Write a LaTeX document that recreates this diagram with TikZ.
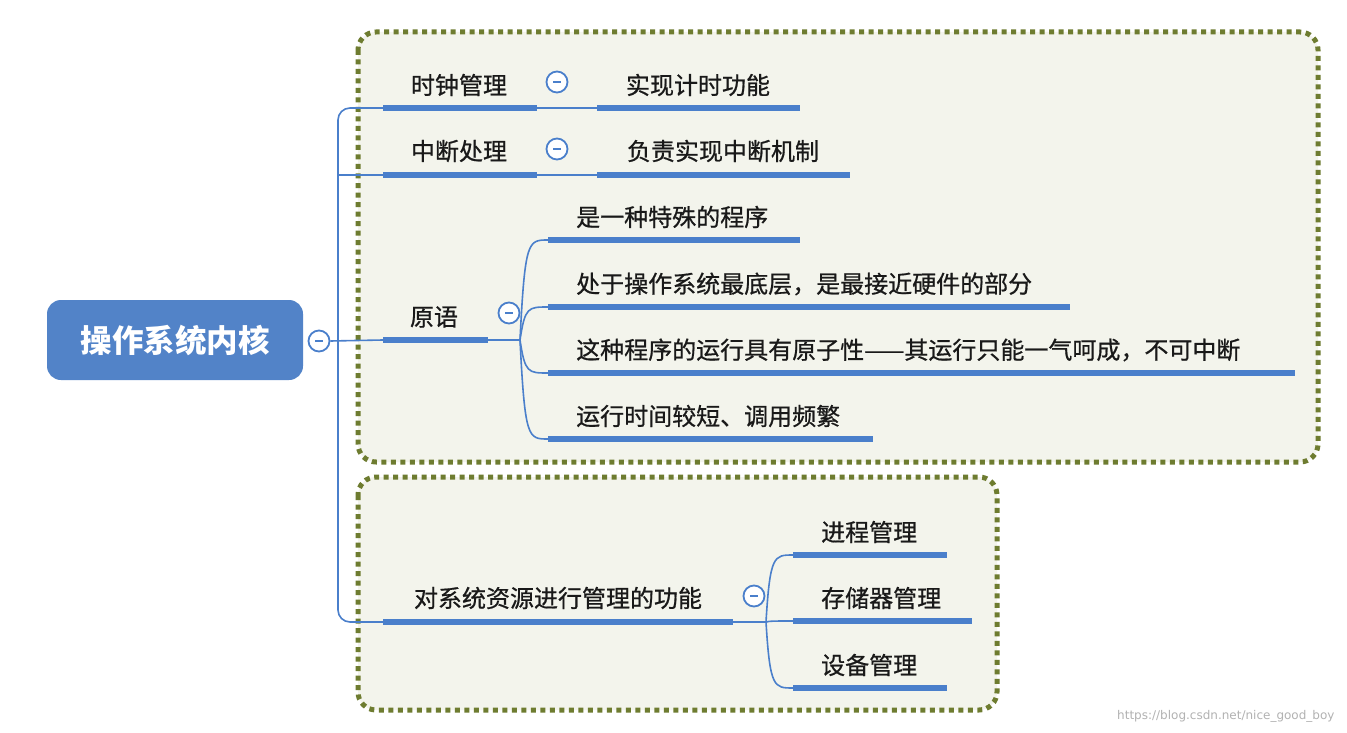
\documentclass[tikz,border=0pt]{standalone}
\usepackage{fontspec}
\newfontfamily\cjk[FakeBold=0.7]{Noto Sans CJK SC}
\newfontfamily\cjkb{Noto Sans CJK SC}
\setsansfont{DejaVu Sans}
\definecolor{rootblue}{HTML}{5283C8}
\definecolor{lineblue}{HTML}{4A7FCB}
\definecolor{olive}{HTML}{6E7C30}
\definecolor{boxfill}{HTML}{F3F4EC}
\begin{document}
\begin{tikzpicture}[x=1pt,y=-1pt,
  lbl/.style={font=\cjk\fontsize{24}{28}\selectfont, text=black!90, inner sep=0pt},
  ul/.style={draw=lineblue, line width=6pt},
  conn/.style={draw=lineblue, line width=1.6pt},
  tog/.style={circle, draw=lineblue, line width=1.8pt, fill=white, minimum size=21pt, inner sep=0pt},
  grp/.style={draw=olive, line width=5pt, dash pattern=on 5pt off 4.5pt, fill=boxfill, rounded corners=18pt}]
\useasboundingbox (0,0) rectangle (1347,733);
\fill[white] (0,0) rectangle (1347,733);
% group boxes
\path[grp] (358,32) rectangle (1318,462);
\path[grp] (358,477) rectangle (997,710);
% root
\node[fill=rootblue, rounded corners=14pt, minimum width=256pt, minimum height=80pt, text=white, font=\cjkb\bfseries\fontsize{31.5}{36}\selectfont] (root) at (175,340) {操作系统内核};
\node[tog] (t0) at (319,341) {};
\draw[lineblue, line width=2pt] ([xshift=-4pt]t0.center) -- ([xshift=4pt]t0.center);
% top-level underline coordinates
\coordinate (a1) at (383,108); \coordinate (a2) at (537,108);
\coordinate (b1) at (383,175); \coordinate (b2) at (537,175);
\coordinate (c1) at (383,340); \coordinate (c2) at (488,340);
\coordinate (d1) at (383,622); \coordinate (d2) at (733,622);
% trunk
\draw[conn, rounded corners=12pt] (a1) -- (338,108) -- (338,622) -- (d1);
\draw[conn, rounded corners=12pt] (338,175) -- (b1);
\draw[conn] (t0.east) -- (c1);
% level 1
\draw[ul] (a1) -- (a2); \node[lbl] (n1) at (459,85) {时钟管理};
\draw[ul] (b1) -- (b2); \node[lbl] (n2) at (459,151) {中断处理};
\draw[ul] (c1) -- (c2); \node[lbl] (n3) at (434,317) {原语};
\draw[ul] (d1) -- (d2); \node[lbl] (n4) at (558,598) {对系统资源进行管理的功能};
% toggles
\foreach \n/\x/\y in {t1/557/82, t2/557/149, t3/509/313, t4/754/596}{
  \node[tog] (\n) at (\x,\y) {};
  \draw[lineblue, line width=2pt] ([xshift=-4pt]\n.center) -- ([xshift=4pt]\n.center);}
% clock / interrupt children
\draw[conn] (a2) -- (597,108); \draw[ul] (597,108) -- (800,108);
\node[lbl] (m1) at (698,85) {实现计时功能};
\draw[conn] (b2) -- (597,175); \draw[ul] (597,175) -- (850,175);
\node[lbl] (m2) at (723,151) {负责实现中断机制};
% primitives children
\coordinate (p) at (520,340);
\draw[conn] (c2) -- (p);
\foreach \y/\xe/\t in {240/800/是一种特殊的程序, 307/1070/{处于操作系统最底层，是最接近硬件的部分}, 373/1295/{这种程序的运行具有原子性——其运行只能一气呵成，不可中断}, 439/873/{运行时间较短、调用频繁}}{
  \draw[conn] (p) .. controls (525,\y) and (528,\y) .. (548,\y);
  \draw[ul] (548,\y) -- (\xe,\y);
  \node[lbl, anchor=west] at (576,\y-23) {\t};}
% resources children
\coordinate (q) at (766,622);
\draw[conn] (d2) -- (q);
\foreach \y/\xe/\t in {555/947/进程管理, 621/972/存储器管理, 688/947/设备管理}{
  \draw[conn] (q) .. controls (770,\y) and (774,\y) .. (793,\y);
  \draw[ul] (793,\y) -- (\xe,\y);
  \node[lbl, anchor=west] at (821,\y-23) {\t};}
\node[font=\sffamily\fontsize{12}{14}\selectfont, text=black!30, anchor=east] (wm) at (1338,716) {https://blog.csdn.net/nice\_good\_boy};
\end{tikzpicture}
\end{document}
